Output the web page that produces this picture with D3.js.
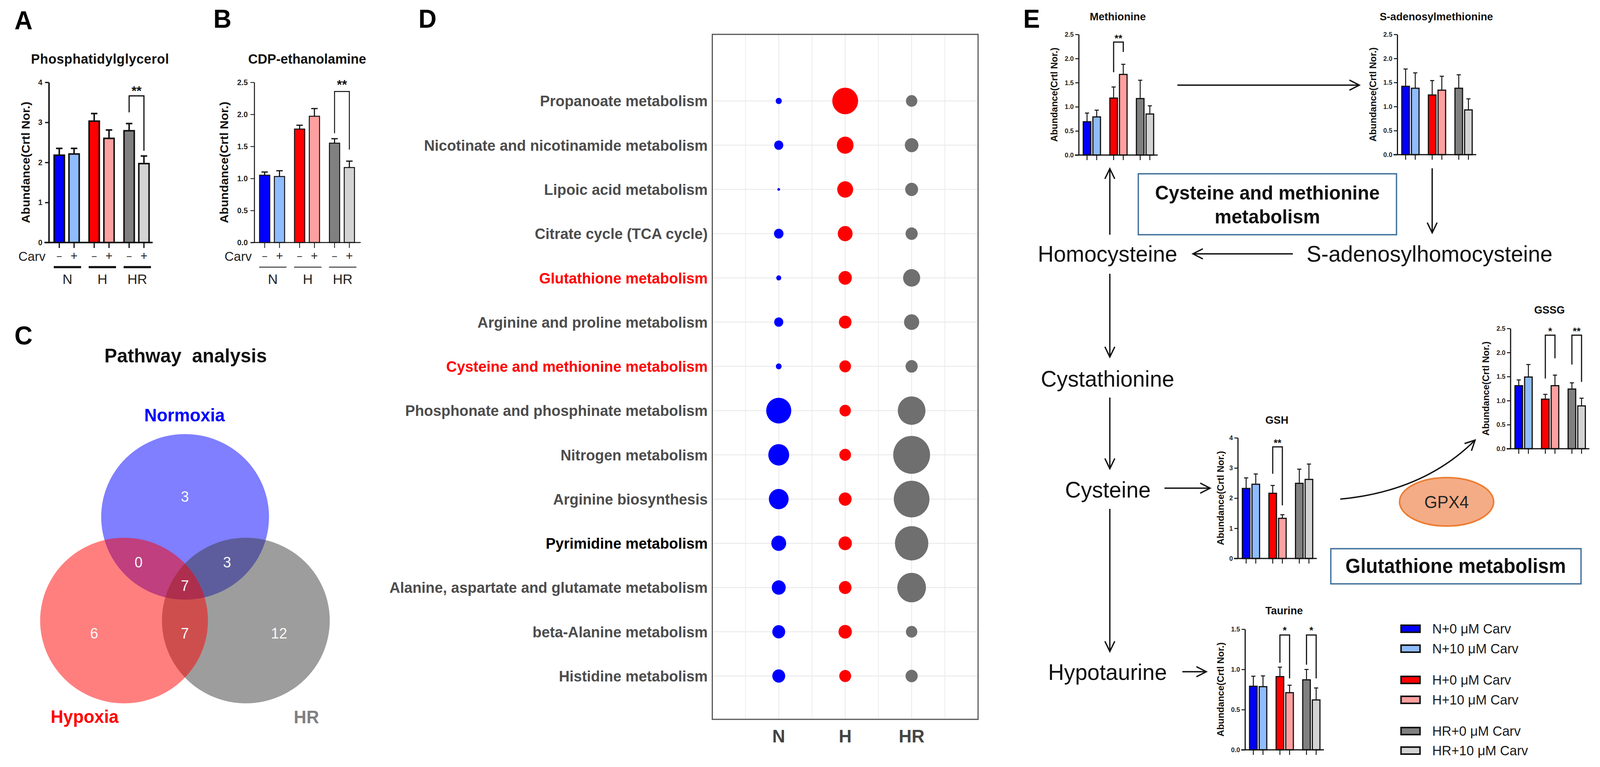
<!DOCTYPE html>
<html><head><meta charset="utf-8">
<script src="https://cdn.jsdelivr.net/npm/d3@7"></script>
<style>
html,body{margin:0;padding:0;background:#fff;overflow:hidden;width:100%;height:100%}
svg{display:block;background:#fff;width:100vw;height:100vh}
text{font-family:"Liberation Sans",Arial,Helvetica,sans-serif}
</style></head><body>
<svg id="fig" viewBox="0 0 4214 1964" preserveAspectRatio="none"></svg>
<script>
// ================= DATA =================
const groups = ["N", "H", "HR"];
const treat = ["-", "+"];
const barColors = ["#0000ff", "#8fbcff", "#ff0000", "#ffa0a0", "#808080", "#d3d3d3"];

// Panel A – Phosphatidylglycerol (mean, SD)
const pgMean = [2.18, 2.21, 3.03, 2.60, 2.79, 1.97];
const pgSD   = [0.17, 0.14, 0.19, 0.21, 0.18, 0.19];
const pgTicks = [0, 1, 2, 3, 4];
const pgSig = [{g: "HR", label: "**", top: 3.66, left: 3.25, right: 2.29, text: 3.86}];

// Panel B – CDP-ethanolamine
const cdpMean = [1.05, 1.03, 1.77, 1.97, 1.55, 1.17];
const cdpSD   = [0.05, 0.09, 0.06, 0.12, 0.07, 0.10];
const cdpTicks = [0, 0.5, 1.0, 1.5, 2.0, 2.5];
const cdpSig = [{g: "HR", label: "**", top: 2.357, left: 1.705, right: 1.45, text: 2.51}];

// Panel C – Venn counts
const vennSets = ["Normoxia", "Hypoxia", "HR"];
const vennSetColors = ["#0000ff", "#ff0000", "#808080"];
const vennRegions = ["N only", "N∩H", "N∩HR", "N∩H∩HR", "H only", "H∩HR", "HR only"];
const vennCounts  = [3, 0, 3, 7, 6, 7, 12];

// Panel D – pathway bubbles
const pathways = [
  "Propanoate metabolism",
  "Nicotinate and nicotinamide metabolism",
  "Lipoic acid metabolism",
  "Citrate cycle (TCA cycle)",
  "Glutathione metabolism",
  "Arginine and proline metabolism",
  "Cysteine and methionine metabolism",
  "Phosphonate and phosphinate metabolism",
  "Nitrogen metabolism",
  "Arginine biosynthesis",
  "Pyrimidine metabolism",
  "Alanine, aspartate and glutamate metabolism",
  "beta-Alanine metabolism",
  "Histidine metabolism"
];
const bubbleGroups = ["N", "H", "HR"];
const sizeN  = [8, 12, 3.5, 12.5, 6.6, 12, 7.6, 33, 27.5, 26, 19.6, 18.4, 17, 17];
const sizeH  = [34, 22, 21, 19.5, 17.6, 16.6, 15.3, 15, 15.3, 17, 17.6, 16.6, 17.6, 15.6];
const sizeHR = [15, 18, 17, 16, 22.5, 20, 16, 36.5, 48.5, 47, 44, 37.8, 15, 16];
const bubbleColors = ["#0000ff", "#ff0000", "#6f6f6f"];

// Panel E – metabolites
const metMean = [0.69, 0.79, 1.18, 1.67, 1.17, 0.85];
const metSD   = [0.18, 0.14, 0.23, 0.21, 0.38, 0.17];
const metSig  = [{g: "H", label: "**", top: 2.34, left: 1.715, right: 2.136, text: 2.47}];

const samMean = [1.42, 1.38, 1.24, 1.34, 1.38, 0.93];
const samSD   = [0.36, 0.32, 0.30, 0.29, 0.28, 0.23];
const samSig  = [];

const gshMean = [2.32, 2.46, 2.16, 1.33, 2.49, 2.62];
const gshSD   = [0.35, 0.34, 0.26, 0.12, 0.47, 0.51];
const gshSig  = [{g: "H", label: "**", top: 3.70, left: 2.81, right: 1.76, text: 3.91}];

const gssgMean = [1.31, 1.49, 1.03, 1.31, 1.24, 0.89];
const gssgSD   = [0.12, 0.26, 0.10, 0.22, 0.13, 0.16];
const gssgSig  = [{g: "H", label: "*", top: 2.36, left: 1.46, right: 1.88, text: 2.49},
                  {g: "HR", label: "**", top: 2.36, left: 1.75, right: 1.39, text: 2.49}];

const tauMean = [0.79, 0.785, 0.91, 0.71, 0.87, 0.62];
const tauSD   = [0.125, 0.134, 0.118, 0.093, 0.129, 0.149];
const tauSig  = [{g: "H", label: "*", top: 1.427, left: 1.083, right: 0.888, text: 1.515},
                 {g: "HR", label: "*", top: 1.427, left: 1.058, right: 0.888, text: 1.515}];

const ticks25 = [0, 0.5, 1.0, 1.5, 2.0, 2.5];
const ticks4  = [0, 1, 2, 3, 4];
const ticks15 = [0, 0.5, 1.0, 1.5];

const legendLabels = ["N+0 μM Carv", "N+10 μM Carv", "H+0 μM Carv", "H+10 μM Carv", "HR+0 μM Carv", "HR+10 μM Carv"];

// ================= DRAWING =================
const svg = d3.select("#fig");
svg.append("rect").attr("width", 4214).attr("height", 1964).attr("fill", "#fff");

const fmt1 = d3.format(".1f");
const fmt0 = d3.format("d");

function barChart(cfg, means, sds, ticks, fmt, sig, title) {
  const g = svg.append("g");
  const y = d3.scaleLinear().domain([0, cfg.max]).range([cfg.y0, cfg.yTop]);
  const gx = d3.scaleBand().domain(groups)
    .range([cfg.ax + cfg.off0 - cfg.step / 2, cfg.ax + cfg.off0 + 2.5 * cfg.step]);
  const pi = 1 - cfg.bw / (2 * cfg.half);
  const inner = d3.scaleBand().domain(treat).range([-2 * cfg.half, 2 * cfg.half])
    .paddingInner(pi).paddingOuter(pi / 2);
  const cxOf = (gr, t) => gx(gr) + gx.bandwidth() / 2 + inner(t) + inner.bandwidth() / 2;
  const bars = [];
  groups.forEach((gr, i) => treat.forEach((t, j) => {
    const k = i * 2 + j;
    bars.push({g: gr, t: t, m: means[k], sd: sds[k], c: barColors[k], cx: cxOf(gr, t)});
  }));

  // error bars (mean + SD)
  const eb = g.append("g").attr("stroke", "#111").attr("stroke-width", cfg.err).attr("fill", "none");
  eb.selectAll("line.v").data(bars).join("line")
    .attr("x1", d => d.cx).attr("x2", d => d.cx)
    .attr("y1", d => y(d.m)).attr("y2", d => y(d.m + d.sd));
  eb.selectAll("line.c").data(bars).join("line")
    .attr("x1", d => d.cx - cfg.cap / 2).attr("x2", d => d.cx + cfg.cap / 2)
    .attr("y1", d => y(d.m + d.sd)).attr("y2", d => y(d.m + d.sd));

  // bars
  g.append("g").selectAll("rect").data(bars).join("rect")
    .attr("x", d => d.cx - cfg.bw / 2).attr("width", cfg.bw)
    .attr("y", d => y(d.m)).attr("height", d => y(0) - y(d.m))
    .attr("fill", d => d.c).attr("stroke", "#111").attr("stroke-width", cfg.barStroke);

  // y axis
  const ya = g.append("g").attr("transform", `translate(${cfg.ax},0)`)
    .call(d3.axisLeft(y).tickValues(ticks).tickFormat(fmt).tickSize(cfg.tickLen).tickSizeOuter(0).tickPadding(cfg.tickPad));
  ya.select(".domain").attr("stroke", "#111").attr("stroke-width", cfg.axisW);
  ya.selectAll(".tick line").attr("stroke", "#111").attr("stroke-width", cfg.axisW * 0.8);
  ya.selectAll(".tick text").attr("font-size", cfg.tickFs).attr("font-weight", "bold")
    .attr("fill", "#222").style("font-family", '"Liberation Sans",Arial,sans-serif');

  // x axis line + ticks
  g.append("line").attr("x1", cfg.ax + cfg.xs).attr("x2", cfg.ax + cfg.xe)
    .attr("y1", cfg.y0).attr("y2", cfg.y0).attr("stroke", "#111").attr("stroke-width", cfg.axisW);
  g.append("g").selectAll("line").data(bars).join("line")
    .attr("x1", d => d.cx).attr("x2", d => d.cx)
    .attr("y1", cfg.y0).attr("y2", cfg.y0 + cfg.xtick)
    .attr("stroke", "#111").attr("stroke-width", cfg.axisW * 0.8);

  // y label
  const ymid = (cfg.y0 + cfg.yTop) / 2;
  g.append("text").attr("transform", `translate(${cfg.ax - cfg.labOff},${ymid}) rotate(-90)`)
    .attr("text-anchor", "middle").attr("dominant-baseline", "central")
    .attr("font-size", cfg.labFs).attr("font-weight", "bold").attr("fill", "#111")
    .text("Abundance(Crtl Nor.)");

  // title
  g.append("text").attr("x", cfg.ax + (cfg.xs + cfg.xe) / 2 + 4).attr("y", cfg.yTop + cfg.titleDy)
    .attr("text-anchor", "middle").attr("font-size", cfg.titleFs).attr("font-weight", "bold")
    .attr("fill", "#111").attr("letter-spacing", cfg.titleLs || 0).text(title);

  // significance
  sig.forEach(s => {
    const xl = cxOf(s.g, "-"), xr = cxOf(s.g, "+");
    g.append("path").attr("d", `M${xl},${y(s.left)}V${y(s.top)}H${xr}V${y(s.right)}`)
      .attr("fill", "none").attr("stroke", "#111").attr("stroke-width", cfg.sigW);
    g.append("text").attr("x", (xl + xr) / 2).attr("y", y(s.text) + 0.57 * cfg.sigFs)
      .attr("text-anchor", "middle").attr("font-size", cfg.sigFs).attr("font-weight", "bold")
      .attr("fill", "#111").text(s.label);
  });

  // Carv row + group labels
  if (cfg.carv) {
    g.append("text").attr("x", cfg.ax - cfg.carvDx).attr("y", cfg.y0 + 47)
      .attr("text-anchor", "end").attr("font-size", 34).attr("fill", "#222").text("Carv");
    g.append("g").selectAll("text").data(bars).join("text")
      .attr("x", d => d.cx).attr("y", cfg.y0 + 45).attr("text-anchor", "middle")
      .attr("fill", "#222").text(d => d.t === "-" ? "−" : "+")
      .attr("font-size", d => d.t === "-" ? 26 : 32);
    g.append("g").selectAll("line").data(groups).join("line")
      .attr("x1", d => gx(d) + gx.bandwidth() / 2 - cfg.gHalf + cfg.gShift)
      .attr("x2", d => gx(d) + gx.bandwidth() / 2 + cfg.gHalf + cfg.gShift)
      .attr("y1", cfg.y0 + 63).attr("y2", cfg.y0 + 63)
      .attr("stroke", "#111").attr("stroke-width", cfg.gLineW);
    g.append("g").selectAll("text").data(groups).join("text")
      .attr("x", d => gx(d) + gx.bandwidth() / 2 + cfg.gShift).attr("y", cfg.y0 + 106)
      .attr("text-anchor", "middle").attr("font-size", 36).attr("fill", "#222").text(d => d);
  }
}

const cfgAB = {y0: 621, yTop: 210.7, off0: 47, step: 92, half: 19.5, bw: 27, xtick: 14,
  tickLen: 10, tickPad: 7, tickFs: 20, labFs: 31, titleFs: 35, titleDy: -48, carv: true,
  sigFs: 34, cap: 17, carvDx: 8.6, gHalf: 36, gShift: 2};
barChart(Object.assign({}, cfgAB, {ax: 128.6, max: 4, xs: -11.6, xe: 273.4, axisW: 4, barStroke: 4,
  err: 4, sigW: 3, labOff: 62, gLineW: 5.5, titleLs: 0.5}), pgMean, pgSD, pgTicks, fmt0, pgSig, "Phosphatidylglycerol");
barChart(Object.assign({}, cfgAB, {ax: 669.6, max: 2.5, xs: -9.6, xe: 280.4, axisW: 2.5, barStroke: 2.5,
  err: 3, sigW: 2.5, labOff: 80, gLineW: 2.2, carvDx: 6.6}), cdpMean, cdpSD, cdpTicks, fmt1, cdpSig, "CDP-ethanolamine");

const cfgE = {off0: 34.7, step: 70, half: 12.7, bw: 20, xs: -10, xe: 208, axisW: 3, barStroke: 3,
  err: 2.5, cap: 11, tickLen: 9, tickPad: 4, tickFs: 17, labFs: 24, labOff: 64, titleFs: 28,
  titleDy: -36, xtick: 13, sigFs: 26, sigW: 3, carv: false};
barChart(Object.assign({}, cfgE, {ax: 2841, y0: 397, yTop: 88, max: 2.5}), metMean, metSD, ticks25, fmt1, metSig, "Methionine");
barChart(Object.assign({}, cfgE, {ax: 3680, y0: 396, yTop: 88, max: 2.5}), samMean, samSD, ticks25, fmt1, samSig, "S-adenosylmethionine");
barChart(Object.assign({}, cfgE, {ax: 3260, y0: 1430, yTop: 1121, max: 4, labOff: 45}), gshMean, gshSD, ticks4, fmt0, gshSig, "GSH");
barChart(Object.assign({}, cfgE, {ax: 3978, y0: 1149, yTop: 841, max: 2.5, titleDy: -38}), gssgMean, gssgSD, ticks25, fmt1, gssgSig, "GSSG");
barChart(Object.assign({}, cfgE, {ax: 3279, y0: 1920, yTop: 1611, max: 1.5, titleDy: -38}), tauMean, tauSD, ticks15, fmt1, tauSig, "Taurine");

// ---------- panel labels ----------
[["A", 38, 75], ["B", 562, 71], ["C", 38, 882], ["D", 1102, 71], ["E", 2695, 71]].forEach(([t, x, y]) =>
  svg.append("text").attr("x", x).attr("y", y).attr("font-size", 66).attr("font-weight", "bold")
    .attr("fill", "#000").text(t));

// ---------- Panel C: Venn ----------
const gc = svg.append("g");
gc.append("text").attr("x", 489).attr("y", 928).attr("text-anchor", "middle")
  .attr("font-size", 50).attr("font-weight", "bold").attr("fill", "#111")
  .style("white-space", "pre").text("Pathway  analysis");
const vennGeom = [
  {cx: 487.5, cy: 1323.5, fill: "#0000ff"},   // Normoxia
  {cx: 647.5, cy: 1589, fill: "#3c3c3c"},     // HR
  {cx: 326.7, cy: 1589, fill: "#ff0000"}      // Hypoxia
];
gc.selectAll("ellipse").data(vennGeom).join("ellipse")
  .attr("cx", d => d.cx).attr("cy", d => d.cy).attr("rx", 221).attr("ry", 212)
  .attr("fill", d => d.fill).attr("fill-opacity", 0.5);
const vennPos = [[487, 1271], [365, 1439], [598, 1439], [487, 1499], [248, 1621], [487, 1621], [735, 1621]];
gc.selectAll("text.cnt").data(vennCounts).join("text").attr("class", "cnt")
  .attr("x", (d, i) => vennPos[i][0]).attr("y", (d, i) => vennPos[i][1] + 14)
  .attr("text-anchor", "middle").attr("font-size", 38).attr("fill", "#f8f8f8").text(d => d);
const vennLabPos = [[486, 1079], [223, 1851], [807, 1852]];
gc.selectAll("text.lab").data(vennSets).join("text").attr("class", "lab")
  .attr("x", (d, i) => vennLabPos[i][0]).attr("y", (d, i) => vennLabPos[i][1])
  .attr("text-anchor", "middle").attr("font-size", 46).attr("font-weight", "bold")
  .attr("fill", (d, i) => vennSetColors[i]).text(d => d);

// ---------- Panel D: bubble plot ----------
const gd = svg.append("g");
const dL = 1876, dR = 2576, dT = 88, dB = 1842;
const xD = d3.scaleLinear().domain([0, 4]).range([dL, dR]);
const yD = d3.scalePoint().domain(pathways).range([258.5, 1731]);
const rD = d3.scaleLinear().domain([0, 50]).range([0, 50]);
gd.append("rect").attr("x", dL).attr("y", dT).attr("width", dR - dL).attr("height", dB - dT).attr("fill", "#fff");
gd.append("g").selectAll("line").data([0.5, 1, 1.5, 2, 2.5, 3, 3.5]).join("line")
  .attr("x1", d => xD(d)).attr("x2", d => xD(d)).attr("y1", dT).attr("y2", dB)
  .attr("stroke", "#ebebeb").attr("stroke-width", d => Number.isInteger(d) ? 2.5 : 2);
gd.append("g").selectAll("line").data(pathways).join("line")
  .attr("x1", dL).attr("x2", dR).attr("y1", d => yD(d)).attr("y2", d => yD(d))
  .attr("stroke", "#ebebeb").attr("stroke-width", 2.5);
const bubbles = [];
pathways.forEach((p, i) => {
  [sizeN, sizeH, sizeHR].forEach((arr, j) => bubbles.push({p: p, g: j + 1, v: arr[i], c: bubbleColors[j]}));
});
gd.append("g").selectAll("circle").data(bubbles).join("circle")
  .attr("cx", d => xD(d.g)).attr("cy", d => yD(d.p)).attr("r", d => rD(d.v)).attr("fill", d => d.c);
gd.append("rect").attr("x", dL).attr("y", dT).attr("width", dR - dL).attr("height", dB - dT)
  .attr("fill", "none").attr("stroke", "#555").attr("stroke-width", 3);
const pathColor = p => p === "Glutathione metabolism" || p === "Cysteine and methionine metabolism" ? "#ff0000"
  : (p === "Pyrimidine metabolism" ? "#000" : "#4d4d4d");
gd.append("g").selectAll("text").data(pathways).join("text")
  .attr("x", dL - 12).attr("y", d => yD(d) + 14).attr("text-anchor", "end")
  .attr("font-size", 39).attr("font-weight", "bold").attr("fill", d => pathColor(d)).text(d => d);
gd.append("g").selectAll("text").data(bubbleGroups).join("text")
  .attr("x", (d, i) => xD(i + 1)).attr("y", 1901).attr("text-anchor", "middle")
  .attr("font-size", 47).attr("font-weight", "bold").attr("fill", "#444").text(d => d);

// ---------- Panel E: pathway diagram ----------
const ge = svg.append("g");
function head(x, y, ang) {
  const L = 26, W = 13;
  const bx = x - L * Math.cos(ang), by = y - L * Math.sin(ang);
  const px = -Math.sin(ang) * W, py = Math.cos(ang) * W;
  ge.append("path").attr("d", `M${bx + px},${by + py}L${x},${y}L${bx - px},${by - py}`)
    .attr("fill", "none").attr("stroke", "#111").attr("stroke-width", 3.5).attr("stroke-linejoin", "miter");
}
function arrow(x1, y1, x2, y2) {
  ge.append("line").attr("x1", x1).attr("y1", y1).attr("x2", x2).attr("y2", y2)
    .attr("stroke", "#111").attr("stroke-width", 3.5);
  head(x2, y2, Math.atan2(y2 - y1, x2 - x1));
}
arrow(3101, 218, 3580, 218);
arrow(3772, 431, 3772, 596);
arrow(3405, 650, 3142, 650);
arrow(2923, 601, 2923, 432);
arrow(2923, 701, 2923, 914);
arrow(2923, 1018, 2923, 1200);
arrow(2923, 1303, 2923, 1668);
arrow(3067, 1250, 3187, 1250);
arrow(3114, 1720, 3177, 1720);
ge.append("path").attr("d", "M3530,1278Q3750,1258 3885,1127").attr("fill", "none")
  .attr("stroke", "#111").attr("stroke-width", 3.5);
head(3885, 1127, Math.atan2(1127 - 1258, 3885 - 3750));

const nodes = [["Homocysteine", 2917, 670], ["S-adenosylhomocysteine", 3765, 670],
  ["Cystathionine", 2917, 990], ["Cysteine", 2918, 1274], ["Hypotaurine", 2917, 1741]];
ge.selectAll("text.node").data(nodes).join("text").attr("class", "node")
  .attr("x", d => d[1]).attr("y", d => d[2]).attr("text-anchor", "middle")
  .attr("font-size", 58).attr("fill", "#111").text(d => d[0]);

ge.append("rect").attr("x", 2998).attr("y", 445).attr("width", 680).attr("height", 156)
  .attr("fill", "#fff").attr("stroke", "#41719c").attr("stroke-width", 3.5);
ge.append("text").attr("x", 3338).attr("y", 511).attr("text-anchor", "middle").attr("font-size", 50)
  .attr("font-weight", "bold").attr("fill", "#111").text("Cysteine and methionine");
ge.append("text").attr("x", 3338).attr("y", 572).attr("text-anchor", "middle").attr("font-size", 50)
  .attr("font-weight", "bold").attr("fill", "#111").text("metabolism");

ge.append("rect").attr("x", 3505).attr("y", 1405).attr("width", 659).attr("height", 90)
  .attr("fill", "#fff").attr("stroke", "#41719c").attr("stroke-width", 3.5);
ge.append("text").attr("x", 3834).attr("y", 1467).attr("text-anchor", "middle").attr("font-size", 51)
  .attr("font-weight", "bold").attr("fill", "#111").text("Glutathione metabolism");

ge.append("ellipse").attr("cx", 3810).attr("cy", 1285).attr("rx", 124).attr("ry", 62)
  .attr("fill", "#f4ac86").attr("stroke", "#ed7d31").attr("stroke-width", 4);
ge.append("text").attr("x", 3810).attr("y", 1301).attr("text-anchor", "middle").attr("font-size", 44)
  .attr("fill", "#262626").text("GPX4");

// legend
const legY = [1610, 1661, 1741, 1792, 1872, 1922];
const lg = ge.append("g");
lg.selectAll("rect").data(legendLabels).join("rect")
  .attr("x", 3690).attr("y", (d, i) => legY[i] - 9).attr("width", 50).attr("height", 18)
  .attr("fill", (d, i) => barColors[i]).attr("stroke", "#111").attr("stroke-width", 4);
lg.selectAll("text").data(legendLabels).join("text")
  .attr("x", 3772).attr("y", (d, i) => legY[i] + 12).attr("font-size", 35).attr("fill", "#1a1a1a").text(d => d);
</script>
</body></html>
